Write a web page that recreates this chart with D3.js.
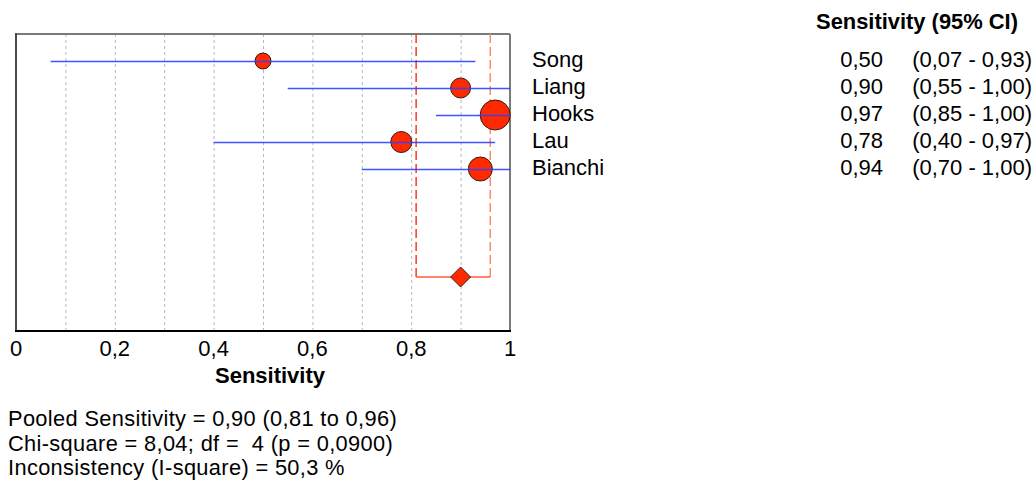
<!DOCTYPE html>
<html>
<head>
<meta charset="utf-8">
<script src="https://cdn.jsdelivr.net/npm/d3@7"></script>
<style>
html,body{margin:0;padding:0;background:#fff;}
svg{display:block;font-family:"Liberation Sans",Arial,sans-serif;}
</style>
</head>
<body>
<svg id="chart" width="1036" height="488"></svg>
<script>
const studies = ["Song", "Liang", "Hooks", "Lau", "Bianchi"];
const sensitivity = [0.50, 0.90, 0.97, 0.78, 0.94];
const ciLow = [0.07, 0.55, 0.85, 0.40, 0.70];
const ciHigh = [0.93, 1.00, 1.00, 0.97, 1.00];
const weights = [9.9, 15.5, 34.9, 17.2, 22.3];
const pooled = [0.90, 0.81, 0.96];
const tickValues = [0, 0.2, 0.4, 0.6, 0.8, 1];
const gridValues = [0.1, 0.2, 0.3, 0.4, 0.5, 0.6, 0.7, 0.8, 0.9];
const footerLines = [
  "Pooled Sensitivity = 0,90 (0,81 to 0,96)",
  "Chi-square = 8,04; df =  4 (p = 0,0900)",
  "Inconsistency (I-square) = 50,3 %"
];
const fmt = v => v.toFixed(2).replace(".", ",");
const tickFmt = v => (v === 0 || v === 1) ? String(v) : String(v).replace(".", ",");

const svg = d3.select("#chart");
const x = d3.scaleLinear().domain([0, 1]).range([16, 510]);
const y = d3.scaleLinear().domain([0, 8]).range([61, 277]);
const r = d3.scaleSqrt().domain([0, d3.max(weights)]).range([0, 15]);
const plotTop = 34, plotBottom = 331;

// grid
svg.append("g").selectAll("line").data(gridValues).join("line")
  .attr("x1", d => x(d) + 0.5).attr("x2", d => x(d) + 0.5)
  .attr("y1", plotTop).attr("y2", plotBottom)
  .attr("stroke", "#b8b8b8").attr("stroke-width", 1).attr("stroke-dasharray", "3,3");

// box
svg.append("line").attr("x1", x(0)).attr("x2", x(1)).attr("y1", plotTop).attr("y2", plotTop).attr("stroke", "#7a7a7a").attr("stroke-width", 2);
svg.append("line").attr("x1", x(1)).attr("x2", x(1)).attr("y1", plotTop).attr("y2", plotBottom).attr("stroke", "#7a7a7a").attr("stroke-width", 2);
svg.append("line").attr("x1", x(0)).attr("x2", x(0)).attr("y1", plotTop - 1).attr("y2", plotBottom).attr("stroke", "#4a4a4a").attr("stroke-width", 2);
svg.append("line").attr("x1", x(0) - 1).attr("x2", x(1) + 1).attr("y1", plotBottom).attr("y2", plotBottom).attr("stroke", "#000").attr("stroke-width", 2);

// pooled CI dashed lines
const py = y(8);
svg.append("line").attr("x1", x(pooled[1])).attr("x2", x(pooled[1])).attr("y1", plotTop).attr("y2", py)
  .attr("stroke", "#ff3a1a").attr("stroke-width", 1.5).attr("stroke-dasharray", "9,4");
svg.append("line").attr("x1", x(pooled[2])).attr("x2", x(pooled[2])).attr("y1", plotTop).attr("y2", py)
  .attr("stroke", "#ff8a70").attr("stroke-width", 1.5).attr("stroke-dasharray", "9,4");
svg.append("line").attr("x1", x(pooled[1])).attr("x2", x(pooled[2])).attr("y1", py).attr("y2", py)
  .attr("stroke", "#ff5a3c").attr("stroke-width", 1.5);

// points
svg.append("g").selectAll("circle").data(studies).join("circle")
  .attr("cx", (d, i) => x(sensitivity[i])).attr("cy", (d, i) => y(i))
  .attr("r", (d, i) => r(weights[i]))
  .attr("fill", "#ff2a00").attr("stroke", "#3a1a10").attr("stroke-width", 1);

// CI lines
svg.append("g").selectAll("line").data(studies).join("line")
  .attr("x1", (d, i) => x(ciLow[i])).attr("x2", (d, i) => x(ciHigh[i]))
  .attr("y1", (d, i) => y(i) + 0.5).attr("y2", (d, i) => y(i) + 0.5)
  .attr("stroke", "#2a44ff").attr("stroke-width", 1.3).attr("stroke-opacity", 0.9);

// pooled diamond
const pd = 10;
svg.append("path")
  .attr("d", `M${x(pooled[0]) - pd},${py} L${x(pooled[0])},${py - pd} L${x(pooled[0]) + pd},${py} L${x(pooled[0])},${py + pd} Z`)
  .attr("fill", "#ff2a00").attr("stroke", "#3a2a20").attr("stroke-width", 1);

// axis tick labels
svg.append("g").selectAll("text").data(tickValues).join("text")
  .attr("x", d => x(d)).attr("y", 356).attr("text-anchor", "middle")
  .attr("font-size", 22).attr("fill", "#000").text(tickFmt);
svg.append("text").attr("x", 270).attr("y", 383).attr("text-anchor", "middle")
  .attr("font-size", 22).attr("font-weight", "bold").text("Sensitivity");

// study labels
svg.append("g").selectAll("text").data(studies).join("text")
  .attr("x", 532).attr("y", (d, i) => y(i) + 6).attr("font-size", 22).text(d => d);

// table
svg.append("text").attr("x", 1018).attr("y", 29).attr("text-anchor", "end")
  .attr("font-size", 21.9).attr("font-weight", "bold").text("Sensitivity (95% CI)");
svg.append("g").selectAll("text").data(studies).join("text")
  .attr("x", 883).attr("y", (d, i) => y(i) + 6).attr("text-anchor", "end")
  .attr("font-size", 22).text((d, i) => fmt(sensitivity[i]));
svg.append("g").selectAll("text").data(studies).join("text")
  .attr("x", 1032).attr("y", (d, i) => y(i) + 6).attr("text-anchor", "end")
  .attr("font-size", 22).text((d, i) => `(${fmt(ciLow[i])} - ${fmt(ciHigh[i])})`);

// footer
svg.append("g").selectAll("text").data(footerLines).join("text")
  .attr("x", 8).attr("y", (d, i) => 426 + i * 24.5).attr("font-size", 21.8)
  .attr("letter-spacing", 0.35)
  .attr("xml:space", "preserve").style("white-space", "pre").text(d => d);
</script>
</body>
</html>
